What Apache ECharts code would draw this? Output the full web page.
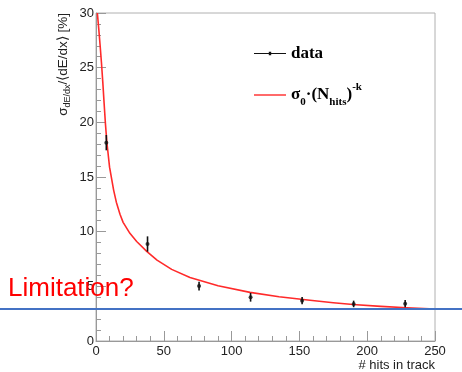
<!DOCTYPE html>
<html>
<head>
<meta charset="utf-8">
<script src="https://cdn.jsdelivr.net/npm/echarts@6/dist/echarts.min.js"></script>
<style>
  html, body { margin: 0; padding: 0; background: #fff; }
  #main { width: 462px; height: 372px; }
</style>
</head>
<body>
<div id="main"></div>
<script>
// measured points
const hitsX = [7.6, 38, 76, 114, 152, 190, 228]
const sigmaY = [18.14, 8.87, 5.03, 4.0, 3.69, 3.39, 3.41]
const sigmaErr = [0.7, 0.7, 0.4, 0.4, 0.33, 0.3, 0.33]
// fitted curve
const fitX = [1, 2, 3, 4, 5, 6, 7, 8, 10, 13, 15, 17.7, 20, 25, 30, 37.4, 45, 55.8, 69.3, 90, 113.6, 135, 157.8, 175, 189.5, 210, 229.1, 250]
const fitY = [30, 28.6, 27.1, 25.5, 23.7, 21.7, 19.8, 18.2, 15.9, 13.8, 12.7, 11.6, 10.85, 9.85, 9.1, 8.2, 7.4, 6.55, 5.8, 5.05, 4.45, 4.05, 3.72, 3.5, 3.34, 3.17, 3.04, 2.93]
const xTicks = [0, 50, 100, 150, 200, 250]
const yTicks = [0, 5, 10, 15, 20, 25, 30]
const limitLevel = 2.93

const chart = echarts.init(document.getElementById('main'))

const axisGray = '#999'
const labelFont = { color: '#222', fontSize: 13, fontFamily: 'Liberation Sans, Arial, sans-serif' }

chart.setOption({
  animation: false,
  grid: { left: 96, right: 27, top: 13, bottom: 31, show: true, borderColor: '#b0b0b0', borderWidth: 1 },
  legend: [{
    data: ['data'],
    left: 249, top: 40,
    itemWidth: 32, itemHeight: 10,
    icon: 'path://M0,4.4H32V5.6H0Z M14.8,3.3h2.4v3.4h-2.4z',
    textStyle: { fontFamily: 'Liberation Serif, Times New Roman, serif', fontWeight: 'bold', fontSize: 17, color: '#000' }
  }, {
    data: ['fit'],
    left: 249, top: 77,
    itemWidth: 32, itemHeight: 10,
    icon: 'path://M0,4.3H32V5.7H0Z',
    formatter: () => '{a|σ}{b|0}{a|·(N}{b|hits}{a|)}{c|-k}',
    textStyle: {
      fontFamily: 'Liberation Serif, Times New Roman, serif', fontWeight: 'bold', color: '#000',
      rich: {
        a: { fontSize: 17, lineHeight: 26, fontWeight: 'bold', fontFamily: 'Liberation Serif, serif' },
        b: { fontSize: 11, lineHeight: 10, verticalAlign: 'bottom', fontWeight: 'bold', fontFamily: 'Liberation Serif, serif' },
        c: { fontSize: 11, lineHeight: 11, verticalAlign: 'top', fontWeight: 'bold', fontFamily: 'Liberation Serif, serif' }
      }
    }
  }],
  xAxis: {
    type: 'value', min: xTicks[0], max: xTicks[xTicks.length - 1], interval: 50,
    name: '# hits in track', nameLocation: 'end', nameGap: 0,
    nameTextStyle: { align: 'right', verticalAlign: 'top', padding: [18, 0, 0, 0], color: '#222', fontSize: 13, fontFamily: 'Liberation Sans, Arial, sans-serif' },
    axisLine: { lineStyle: { color: axisGray } },
    axisTick: { inside: true, length: 10, lineStyle: { color: axisGray } },
    minorTick: { show: true, splitNumber: 5, length: 5, lineStyle: { color: axisGray } },
    splitLine: { show: false },
    axisLabel: Object.assign({ margin: 4 }, labelFont)
  },
  yAxis: {
    type: 'value', min: yTicks[0], max: yTicks[yTicks.length - 1], interval: 5,
    axisLine: { show: true, lineStyle: { color: axisGray } },
    axisTick: { show: true, inside: true, length: 10, lineStyle: { color: axisGray } },
    minorTick: { show: true, splitNumber: 5, length: 5, lineStyle: { color: axisGray } },
    splitLine: { show: false },
    axisLabel: Object.assign({ margin: 2 }, labelFont)
  },
  series: [{
    name: 'fit',
    type: 'line',
    data: fitX.map((x, i) => [x, fitY[i]]),
    smooth: false,
    showSymbol: false,
    itemStyle: { color: '#ff2a2a' },
    lineStyle: { color: '#ff2a2a', width: 1.6, join: 'round' },
    z: 2
  }, {
    name: 'data',
    type: 'custom',
    data: hitsX.map((x, i) => [x, sigmaY[i] - sigmaErr[i], sigmaY[i] + sigmaErr[i]]),
    renderItem: (params, api) => {
      const lo = api.coord([api.value(0), api.value(1)])
      const hi = api.coord([api.value(0), api.value(2)])
      return {
        type: 'line',
        shape: { x1: lo[0], y1: lo[1], x2: hi[0], y2: hi[1] },
        style: { stroke: '#111', lineWidth: 1.6 }
      }
    },
    itemStyle: { color: '#111' },
    z: 3
  }, {
    name: 'data',
    type: 'scatter',
    data: hitsX.map((x, i) => [x, sigmaY[i]]),
    symbolSize: 4,
    itemStyle: { color: '#111' },
    z: 4
  }]
})

const yPix = chart.convertToPixel({ yAxisIndex: 0 }, limitLevel)

chart.setOption({
  graphic: [{
    type: 'text',
    x: 63, y: 13,
    rotation: Math.PI / 2,
    style: {
      text: '{a|σ}{b|dE/dx}{a|/⟨dE/dx⟩ [%]}',
      align: 'right', verticalAlign: 'middle',
      fill: '#222',
      rich: {
        a: { fontSize: 13.5, lineHeight: 18, fontFamily: 'Liberation Sans, Arial, sans-serif', fill: '#222' },
        b: { fontSize: 9, lineHeight: 9, verticalAlign: 'bottom', fontFamily: 'Liberation Sans, Arial, sans-serif', fill: '#222' }
      }
    }
  }, {
    type: 'line',
    shape: { x1: 0, y1: yPix, x2: 462, y2: yPix },
    style: { stroke: '#4472c4', lineWidth: 2 },
    z: 20
  }, {
    type: 'text',
    x: 8, y: yPix - 7,
    style: {
      text: 'Limitation?',
      fill: '#ff0000',
      fontSize: 26,
      fontFamily: 'Liberation Sans, Arial, sans-serif',
      verticalAlign: 'bottom'
    },
    z: 20
  }]
})
</script>
</body>
</html>
